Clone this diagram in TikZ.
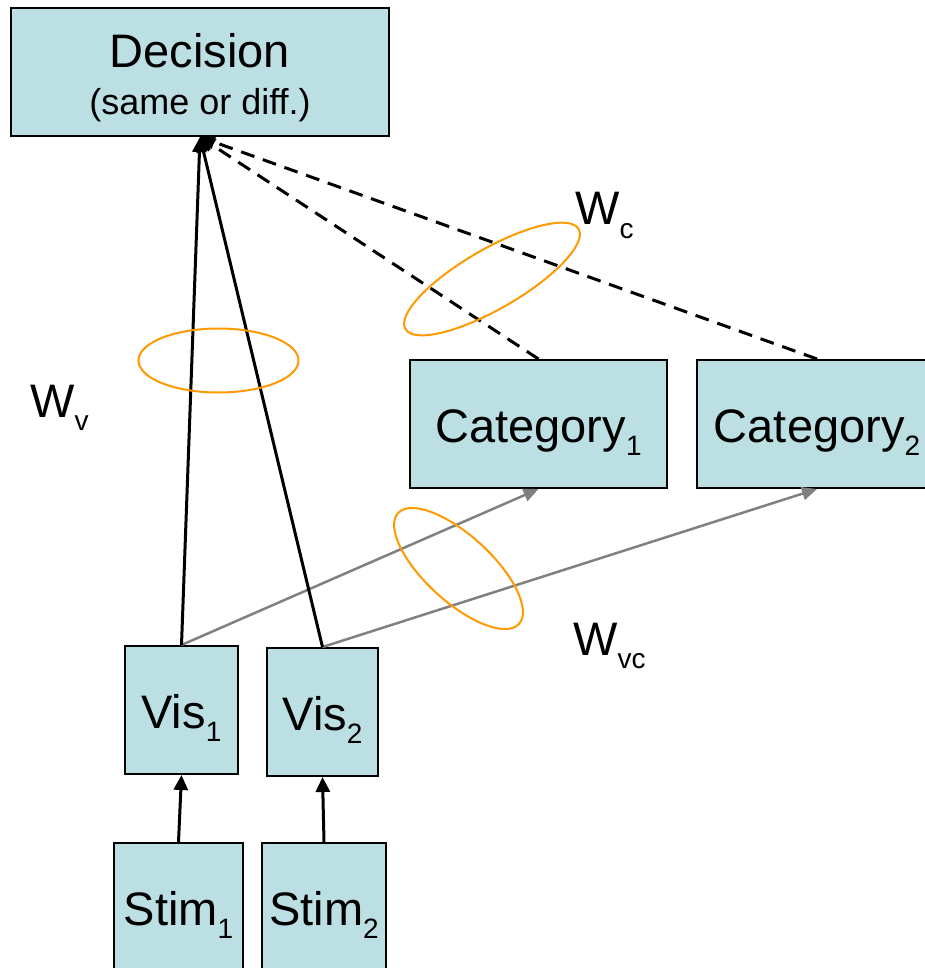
\documentclass[tikz,border=0pt]{standalone}
\usepackage{fontspec}
\setmainfont{Liberation Sans}
\usetikzlibrary{arrows.meta}
\definecolor{boxfill}{RGB}{187,223,226}
\definecolor{ringorange}{RGB}{255,153,0}
\definecolor{linkgray}{RGB}{128,128,128}
\newcommand{\bigtext}{\fontsize{47}{56}\selectfont}
\newcommand{\smalltext}{\fontsize{36}{43}\selectfont}
\newcommand{\lowidx}[1]{\raisebox{-0.28em}{\fontsize{28}{28}\selectfont #1}}
\begin{document}
\begin{tikzpicture}[x=1pt,y=1pt,
  unit/.style={draw=black, line width=2pt, fill=boxfill, rectangle,
    inner sep=0pt, minimum height=128pt, font=\bigtext,
    text height=36pt, text depth=0pt},
  txt/.style={inner sep=0pt, font=\bigtext},
  solidlink/.style={line width=3pt, -{Triangle[length=15pt,width=14pt]}},
  dashlink/.style={line width=3pt, dash pattern=on 14pt off 9pt,
    -{Triangle[length=15pt,width=14pt]}},
  graylink/.style={draw=linkgray, line width=2.5pt,
    -{Triangle[length=15pt,width=13pt]}},
  ring/.style={draw=ringorange, line width=2pt}
]
\useasboundingbox (0,0) rectangle (925,-968);
\clip (0,0) rectangle (925,-968);

% decision unit
\node[unit, minimum width=378pt] (dec) at (200,-72) {};
\node[txt, anchor=base] (dectitle) at (200,-68) {Decision};
\node[txt, anchor=base, font=\smalltext] (decsub) at (200,-115) {(same or diff.)};

% category units
\node[unit, minimum width=257pt] (cat1) at (538.5,-424) {Category\lowidx{1}};
\node[unit, minimum width=240pt] (cat2) at (817,-424) {Category\lowidx{2}};

% visual units
\node[unit, minimum width=113pt] (vis1) at (181.5,-710) {Vis\lowidx{1}};
\node[unit, minimum width=111pt] (vis2) at (322.5,-712) {Vis\lowidx{2}};

% stimulus units
\node[unit, minimum width=129pt] (stim1) at (178.5,-907) {Stim\lowidx{1}};
\node[unit, minimum width=124pt] (stim2) at (324,-907) {Stim\lowidx{2}};

% connections
\draw[solidlink] (stim1.north) -- (vis1.south);
\draw[solidlink] (stim2.north) -- (vis2.south);
\draw[graylink] (vis1.north) -- (cat1.south);
\draw[graylink] (vis2.north) -- (cat2.south);
\draw[dashlink] (cat1.north) -- (dec.south);
\draw[dashlink] (cat2.north) -- (dec.south);
\draw[solidlink] (vis1.north) -- (dec.south);
\draw[solidlink] (vis2.north) -- (dec.south);

% weight groups
\draw[ring] (218.5,-360.5) ellipse [x radius=80pt, y radius=32pt];
\draw[ring, rotate around={30:(492,-279)}] (492,-279) ellipse [x radius=100pt, y radius=30pt];
\draw[ring, rotate around={-42.5:(458.5,-568.5)}] (458.5,-568.5) ellipse [x radius=82pt, y radius=33pt];

% weight labels
\node[txt, anchor=base west] (wc) at (575,-225) {W\lowidx{c}};
\node[txt, anchor=base west] (wv) at (30,-417) {W\lowidx{v}};
\node[txt, anchor=base west] (wvc) at (573,-655) {W\lowidx{vc}};
\end{tikzpicture}
\end{document}
